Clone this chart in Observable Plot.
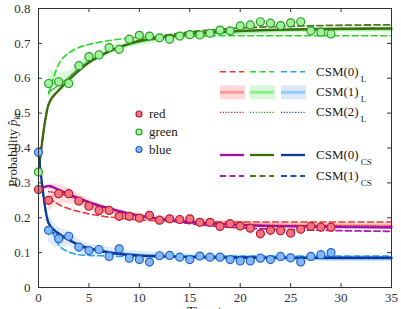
<!DOCTYPE html>
<html><head><meta charset="utf-8">
<script src="https://cdn.jsdelivr.net/npm/d3@7"></script>
<script src="https://cdn.jsdelivr.net/npm/@observablehq/plot@0.6"></script>
<style>
body{margin:0;background:#fff;}
#chart{position:relative;width:401px;height:309px;overflow:hidden;}
#chart svg, #chart svg text, #chart svg tspan { font-family: "Liberation Serif", "Times New Roman", "DejaVu Serif", "Liberation Sans", Arimo, sans-serif !important; }
</style>
</head><body><div id="chart"></div>
<script>
// ---------- observed data ----------
const obsT = [0,1,2,3,4,5,6,7,8,9,10,11,12,13,14,15,16,17,18,19,20,21,22,23,24,25,26,27,28,29];
const obsRed   = [0.281,0.250,0.269,0.269,0.248,0.233,0.221,0.221,0.204,0.204,0.199,0.207,0.193,0.197,0.195,0.197,0.187,0.187,0.175,0.183,0.176,0.170,0.154,0.164,0.163,0.156,0.167,0.175,0.173,0.173];
const obsGreen = [0.331,0.585,0.590,0.585,0.636,0.662,0.667,0.688,0.683,0.712,0.723,0.721,0.716,0.712,0.721,0.725,0.724,0.729,0.738,0.736,0.750,0.753,0.762,0.758,0.751,0.759,0.762,0.736,0.732,0.727];
const obsBlue  = [0.388,0.164,0.140,0.147,0.116,0.106,0.109,0.089,0.111,0.084,0.080,0.073,0.091,0.092,0.087,0.080,0.090,0.087,0.087,0.080,0.076,0.076,0.084,0.080,0.089,0.085,0.073,0.089,0.094,0.100];

// ---------- model curves ----------
const modelT = [0,1,2,3,4,5,6,7,8,9,10,12,14,16,18,20,25,30,35];
// CSM(0)_L
const l0Red   = [null,0.258,0.238,0.226,0.218,0.211,0.206,0.202,0.199,0.196,0.194,0.191,0.190,0.189,0.188,0.188,0.188,0.188,0.188];
const l0Green = [null,0.555,0.640,0.672,0.688,0.697,0.703,0.708,0.712,0.715,0.717,0.719,0.720,0.721,0.722,0.722,0.722,0.722,0.722];
const l0Blue  = [null,0.187,0.122,0.102,0.094,0.092,0.091,0.090,0.089,0.089,0.089,0.090,0.090,0.090,0.090,0.090,0.090,0.090,0.090];
// CSM(1)_L (centre and half-width of band)
const l1Red   = [null,0.255,0.268,0.262,0.250,0.238,0.228,0.220,0.213,0.208,0.203,0.196,0.191,0.188,0.185,0.183,0.180,0.179,0.178];
const l1Green = [null,0.585,0.588,0.598,0.630,0.652,0.666,0.678,0.688,0.696,0.703,0.713,0.720,0.725,0.729,0.732,0.737,0.739,0.740];
const l1Blue  = [null,0.168,0.144,0.140,0.120,0.110,0.106,0.102,0.099,0.096,0.094,0.091,0.089,0.087,0.086,0.085,0.083,0.082,0.082];
const l1Half  = [null,0.040,0.028,0.022,0.018,0.015,0.013,0.012,0.011,0.010,0.010,0.009,0.009,0.008,0.008,0.008,0.008,0.008,0.008];
// CSM(2)_L
const l2Red   = [null,0.275,0.270,0.262,0.252,0.243,0.234,0.226,0.219,0.212,0.207,0.198,0.192,0.187,0.184,0.181,0.178,0.177,0.176];
const l2Green = [null,0.560,0.580,0.603,0.628,0.648,0.663,0.676,0.687,0.697,0.704,0.714,0.721,0.727,0.731,0.734,0.738,0.740,0.741];
const l2Blue  = [null,0.165,0.150,0.135,0.120,0.109,0.103,0.098,0.094,0.091,0.089,0.088,0.087,0.086,0.085,0.085,0.084,0.083,0.083];
// CSM(0)_CS
const cs0Red   = [0.281,0.291,0.280,0.268,0.256,0.245,0.235,0.227,0.219,0.212,0.206,0.197,0.190,0.185,0.182,0.179,0.175,0.173,0.172];
const cs0Green = [0.331,0.525,0.565,0.595,0.622,0.645,0.662,0.677,0.689,0.699,0.707,0.717,0.724,0.730,0.733,0.736,0.740,0.742,0.743];
const cs0Blue  = [0.388,0.184,0.155,0.137,0.122,0.113,0.106,0.101,0.097,0.094,0.092,0.090,0.088,0.087,0.086,0.086,0.085,0.085,0.085];
// CSM(1)_CS
const cs1Red   = [0.281,0.291,0.280,0.268,0.256,0.245,0.235,0.227,0.219,0.212,0.205,0.195,0.187,0.180,0.175,0.171,0.166,0.163,0.161];
const cs1Green = [0.331,0.525,0.565,0.595,0.622,0.645,0.662,0.677,0.690,0.700,0.709,0.721,0.729,0.736,0.740,0.744,0.749,0.752,0.753];
const cs1Blue  = [0.388,0.184,0.155,0.137,0.122,0.113,0.106,0.101,0.096,0.093,0.091,0.088,0.087,0.086,0.086,0.086,0.086,0.086,0.086];

// ---------- ticks / labels ----------
const xTicks = [0,5,10,15,20,25,30,35];
const yTicks = [0,0.1,0.2,0.3,0.4,0.5,0.6,0.7,0.8];
const pointLabels = ["red","green","blue"];
const legendModels = ["CSM(0)","CSM(1)","CSM(2)","CSM(0)","CSM(1)"];
const legendSubs = ["L","L","L","CS","CS"];

// ---------- styles ----------
const C = {
  l0: ["#f03535","#22dd22","#22a5ee"],
  l1line: ["#ff9a9a","#8ef08e","#96c8fb"],
  l1band: ["#fdd9d9","#d8f8d8","#dbe9fb"],
  l2: ["#c8203c","#2f9a2f","#2a48b8"],
  cs0: ["#a30fa6","#3d6c10","#0b3a9c"],
  cs1: ["#b01db4","#4b7a22","#2050b4"],
  ptFill: ["#f27382","#a6f0a0","#84b8f6"],
  ptStroke: ["#b8182e","#22a022","#2260cc"]
};
const FONT = "'Liberation Serif', 'Times New Roman', 'DejaVu Serif', 'Liberation Sans', Arimo, sans-serif";

const ser = (vals) => modelT.map((t,i)=>({t, v: vals[i], h: l1Half[i]})).filter(d => d.v != null);
const obs = (vals) => obsT.map((t,i)=>({t, v: vals[i]}));

const curve = "monotone-x";
const marks = [];
[l1Red,l1Green,l1Blue].forEach((a,k)=>{
  marks.push(Plot.areaY(ser(a), {x:"t", y1: d=>d.v-d.h, y2: d=>d.v+d.h, fill: C.l1band[k], fillOpacity: 0.9, curve}));
});
[l1Red,l1Green,l1Blue].forEach((a,k)=>{
  marks.push(Plot.line(ser(a), {x:"t", y:"v", stroke: C.l1line[k], strokeWidth: 2.5, strokeOpacity: 0.8, curve}));
});
[l0Red,l0Green,l0Blue].forEach((a,k)=>{
  marks.push(Plot.line(ser(a), {x:"t", y:"v", stroke: C.l0[k], strokeWidth: 1.6, strokeDasharray: "6,3.5", curve}));
});
[l2Red,l2Green,l2Blue].forEach((a,k)=>{
  marks.push(Plot.line(ser(a), {x:"t", y:"v", stroke: C.l2[k], strokeWidth: 1.3, strokeDasharray: "1.2,1.6", curve}));
});
[cs1Red,cs1Green,cs1Blue].forEach((a,k)=>{
  marks.push(Plot.line(ser(a), {x:"t", y:"v", stroke: C.cs1[k], strokeWidth: 1.8, strokeDasharray: "6,3.5", curve}));
});
[cs0Red,cs0Green,cs0Blue].forEach((a,k)=>{
  marks.push(Plot.line(ser(a), {x:"t", y:"v", stroke: C.cs0[k], strokeWidth: 2.3, curve}));
});
[obsRed,obsGreen,obsBlue].forEach((a,k)=>{
  marks.push(Plot.dot(obs(a), {x:"t", y:"v", r: 4, fill: C.ptFill[k], stroke: C.ptStroke[k], strokeWidth: 1.2}));
});

const innerW = 401-38-10, innerH = 309-8-22;
const axisColor = "#333";
const chart = Plot.plot({
  width: 401, height: 309,
  marginLeft: 38, marginRight: 10, marginTop: 8, marginBottom: 22,
  style: {fontFamily: FONT, fontSize: "13px", color: "#333", background: "#fff", overflow: "visible"},
  x: {domain: [0,35]},
  y: {domain: [0,0.8]},
  marks: [
    ...marks,
    Plot.ruleY(yTicks, {y: d=>d, insetRight: innerW-4, stroke: axisColor}),
    Plot.ruleY(yTicks, {y: d=>d, insetLeft: innerW-4, stroke: axisColor}),
    Plot.ruleX(xTicks, {x: d=>d, insetTop: innerH-4, stroke: axisColor}),
    Plot.ruleX(xTicks, {x: d=>d, insetBottom: innerH-4, stroke: axisColor}),
    Plot.axisY(yTicks, {tickSize: 0, tickPadding: 8, label: null, fontFamily: FONT, tickFormat: d => d===0 ? "0" : d.toFixed(1)}),
    Plot.axisX(xTicks, {tickSize: 0, tickPadding: 5, label: null, fontFamily: FONT, tickFormat: d => String(d)}),
    Plot.frame({stroke: axisColor})
  ]
});
document.getElementById("chart").append(chart);

// ---------- axis titles & legends ----------
const svg = d3.select(chart);
const txt = (sel) => sel.attr("font-size",13).attr("fill","#222").attr("font-family",FONT);
const yl = txt(svg.append("text").attr("transform","translate(17,150) rotate(-90)").attr("text-anchor","middle"));
yl.append("tspan").text("Probability ");
yl.append("tspan").attr("font-style","italic").text("p\u0302");
yl.append("tspan").attr("font-style","italic").attr("font-size",9).attr("dy",3).text("kt");

const xl = txt(svg.append("text").attr("x",204).attr("y",315).attr("text-anchor","middle"));
xl.append("tspan").text("Time ");
xl.append("tspan").attr("font-style","italic").text("t");

// point legend
const ptRows = [114, 132, 149.5];
pointLabels.forEach((lab,k)=>{
  svg.append("circle").attr("cx",139).attr("cy",ptRows[k]).attr("r",3)
    .attr("fill",C.ptFill[k]).attr("stroke",C.ptStroke[k]).attr("stroke-width",1.2);
  txt(svg.append("text").attr("x",149).attr("y",ptRows[k]).attr("dy","0.32em").attr("text-anchor","start")).text(lab);
});

// model legend
const rows = [71.7, 92.3, 112.3, 155, 176];
const segs = [[220,244],[250,274],[281,305]];
const rowStyle = [
  k => ({stroke: C.l0[k], w: 1.6, dash: "6,3.5"}),
  k => ({stroke: C.l1line[k], w: 3, dash: null, band: C.l1band[k]}),
  k => ({stroke: C.l2[k], w: 1.3, dash: "1.2,1.6"}),
  k => ({stroke: C.cs0[k], w: 2.3, dash: null}),
  k => ({stroke: C.cs1[k], w: 1.8, dash: "6,3.5"})
];
rows.forEach((y,r)=>{
  segs.forEach(([x1,x2],k)=>{
    const s = rowStyle[r](k);
    if (s.band) svg.append("rect").attr("x",x1).attr("y",y-7).attr("width",x2-x1+1).attr("height",14).attr("fill",s.band);
    const ln = svg.append("line").attr("x1",x1).attr("x2",x2).attr("y1",y).attr("y2",y)
      .attr("stroke",s.stroke).attr("stroke-width",s.w);
    if (s.dash) ln.attr("stroke-dasharray",s.dash);
  });
  const t = txt(svg.append("text").attr("x",316).attr("y",y).attr("dy","0.32em").attr("text-anchor","start"));
  t.append("tspan").text(legendModels[r]);
  t.append("tspan").attr("font-size",9).attr("dx",2).attr("dy",6).text(legendSubs[r]);
});
</script>
</body></html>
